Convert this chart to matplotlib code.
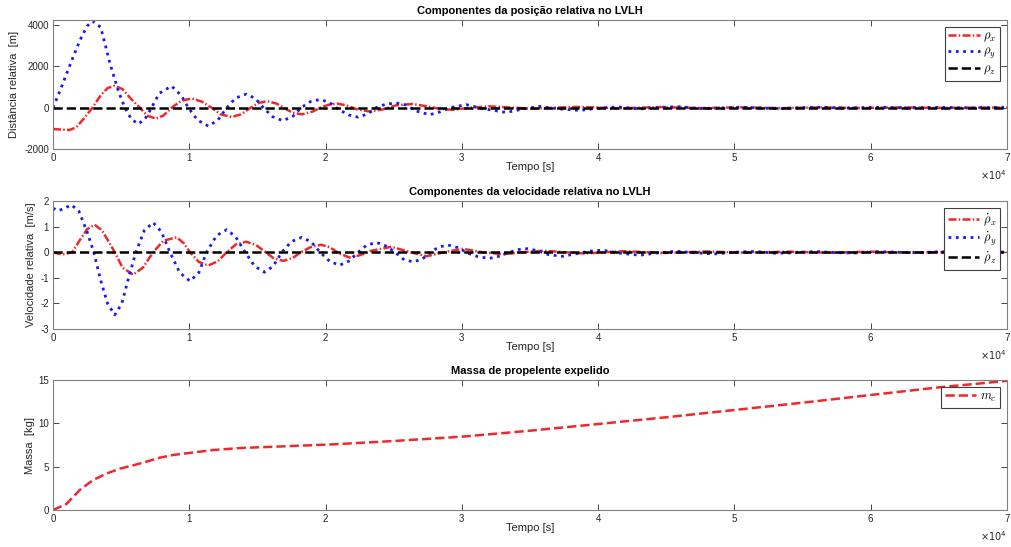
import numpy as np
import matplotlib
matplotlib.use('Agg')
import matplotlib.pyplot as plt

# posicao relativa [m]
t_rx = [0, 600, 1200, 1700, 2300, 2890, 3500, 4000, 4530, 5100, 5700, 6370, 6900, 7550, 8100,
        8700, 9400, 10170, 10900, 11640, 12300, 13110, 13800, 14500, 15100, 15690, 16400, 17000,
        17600, 18260, 19000, 19600, 20200, 20830, 21500, 22300, 23240, 24200, 25200, 26400, 27500,
        28400, 29350, 30600, 32000, 33600, 35200, 36800, 38400, 40000, 41500, 43000, 44500, 46000,
        47500, 49000, 50500, 52000, 53500, 55000, 56500, 58000, 59500, 61000, 62500, 64000, 65500,
        67000, 68500, 70000]
rho_x = [-1030, -1060, -1080, -950, -500, 0, 600, 950, 1060, 900, 450, 0, -380, -530, -380,
         0, 330, 450, 300, 0, -320, -450, -320, 0, 230, 320, 200, -30,
         -250, -320, -200, 0, 140, 200, 120, -80, -180, -80, 120, 180, 60,
         -60, -100, 0, 65, 10, -50, 0, 40, 10, -30, 0, 30, 10,
         -20, 0, 20, 0, -20, 0, 15, 0, -15, 0, 15, 0, -10,
         0, 10, 0]

t_ry = [0, 500, 1000, 1500, 2000, 2500, 2890, 3500, 4200, 4800, 5270, 5750, 6250, 6750, 7230,
        7800, 8700, 9400, 9930, 10600, 11400, 12100, 12750, 13400, 14170, 14850, 15440, 16100,
        16860, 17600, 18200, 18900, 19600, 20300, 21000, 21700, 22380, 23100, 23700, 24400, 25200,
        25900, 26600, 27640, 28400, 29100, 30330, 31500, 33260, 34500, 35700, 37000, 38640, 40000,
        41500, 43000, 44500, 46000, 47500, 49000, 50500, 52000, 53500, 55000, 56500, 58000, 59500,
        61000, 62500, 64000, 65500, 67000, 68500, 70000]
rho_y = [0, 800, 1650, 2500, 3300, 3950, 4200, 3900, 2100, 800, 0, -550, -790, -550, 0,
         700, 1050, 600, 0, -600, -890, -600, 0, 470, 660, 450, 0, -430,
         -630, -420, 0, 300, 400, 250, -100, -350, -456, -300, 0, 170, 230,
         130, -150, -340, -200, 0, 150, -40, -230, -60, 65, -50, -130, -20,
         40, -60, 20, 50, -40, -20, 30, -20, -40, 10, 20, -20, 10,
         20, -10, 10, 20, -10, 10, 20]

t_rz = [0, 70000]
rho_z = [0, 0]

# velocidade relativa [m/s]
t_vx = [0, 400, 735, 1100, 1420, 2000, 2500, 3060, 3600, 4100, 4530, 5100, 5880, 6600, 7350,
        8100, 9070, 9600, 10050, 10700, 11400, 12100, 12750, 13400, 14170, 14900, 15600, 16200,
        16910, 17600, 18200, 18900, 19660, 20300, 21000, 21770, 22500, 23300, 24830, 26100, 27400,
        28700, 30090, 31500, 33020, 34500, 36000, 37500, 39000, 40500, 42000, 43500, 45000, 46500,
        48000, 49500, 51000, 52500, 54000, 55500, 57000, 58500, 60000, 61500, 63000, 64500, 66000,
        67500, 70000]
vel_x = [0, -0.06, -0.08, -0.04, 0, 0.5, 0.9, 1.07, 0.85, 0.4, 0, -0.6, -0.88, -0.6, 0,
         0.45, 0.58, 0.35, 0, -0.38, -0.52, -0.35, 0, 0.3, 0.41, 0.28, 0, -0.24,
         -0.34, -0.22, 0, 0.2, 0.29, 0.2, -0.05, -0.21, -0.12, 0.05, 0.21, 0.02, -0.16,
         0, 0.13, 0, -0.08, 0, 0.06, 0, -0.05, 0, 0.04, 0, -0.03, 0,
         0.03, 0, -0.02, 0, 0.02, 0, -0.02, 0, 0.02, 0, -0.01, 0, 0.01,
         0, 0]

t_vy = [0, 370, 800, 1350, 1900, 2500, 2990, 3500, 4000, 4530, 5050, 5600, 6080, 6700, 7350,
        7950, 8580, 9300, 10050, 10700, 11270, 12000, 12750, 13400, 14100, 14800, 15510, 16150,
        16790, 17500, 18260, 18950, 19600, 20300, 21030, 21700, 22400, 23000, 23730, 24400, 25100,
        25700, 26410, 27100, 27700, 28300, 28980, 29700, 30500, 31200, 32040, 32800, 33500, 34100,
        34850, 35600, 36400, 37400, 38400, 39300, 40330, 41500, 43040, 44300, 45740, 47000, 48500,
        50000, 51500, 53000, 54500, 56000, 57500, 59000, 60500, 62000, 63500, 65000, 66500, 68000,
        70000]
vel_y = [1.72, 1.62, 1.70, 1.85, 1.6, 0.8, 0, -1.1, -2.0, -2.45, -2.0, -0.9, 0, 0.85, 1.16,
         0.8, 0, -0.8, -1.13, -0.8, 0, 0.65, 0.88, 0.6, 0, -0.55, -0.78, -0.55,
         0, 0.42, 0.58, 0.4, 0, -0.36, -0.51, -0.35, 0, 0.27, 0.38, 0.25, 0,
         -0.27, -0.38, -0.27, 0, 0.2, 0.28, 0.18, -0.05, -0.18, -0.24, -0.15, 0, 0.1,
         0.14, 0.05, -0.1, -0.16, -0.06, 0.04, 0.08, -0.03, -0.12, -0.03, 0.04, -0.02, -0.07,
         0, 0.03, -0.04, -0.02, 0.03, -0.02, -0.03, 0.02, 0, -0.02, 0.02, 0, -0.01,
         0.01]

t_vz = [0, 70000]
vel_z = [0, 0]

# massa expelida [kg]
t_m = [0, 980, 1960, 2940, 3920, 4900, 5880, 6860, 7840, 8820, 10000, 11760, 13730, 15690,
       18140, 20590, 25000, 30000, 35000, 40000, 45000, 50000, 55000, 60000, 65000, 70000]
massa = [0, 0.69, 2.3, 3.46, 4.2, 4.77, 5.15, 5.58, 6.04, 6.35, 6.58, 6.92, 7.15, 7.27,
         7.42, 7.58, 7.96, 8.46, 9.15, 9.92, 10.7, 11.54, 12.38, 13.27, 14.15, 14.9]

plt.rcParams['font.family'] = ['Liberation Sans', 'DejaVu Sans']
plt.rcParams['mathtext.fontset'] = 'cm'
plt.rcParams['axes.unicode_minus'] = False

W, H = 1012, 547
fig = plt.figure(figsize=(W / 100, H / 100), dpi=100)

cor_eixo = '#262626'
vermelho = '#f0282a'
azul = '#1a1aee'
traco_ponto = (3.2, 0.9, 0.6, 0.9)


def eixo(top, bottom, ylab, x_ylab):
    ax = fig.add_axes([53 / W, 1 - bottom / H, (1007 - 53) / W, (bottom - top) / H])
    ax.set_xlim(0, 70000)
    ax.set_xticks(np.arange(0, 70001, 10000))
    ax.set_xticklabels([str(i) for i in range(8)])
    ax.tick_params(direction='in', top=True, right=True, length=4, width=0.6,
                   colors=cor_eixo, labelsize=7, pad=3)
    for s in ax.spines.values():
        s.set_color('#808080')
        s.set_linewidth(0.8)
    ax.set_xlabel('Tempo [s]', fontsize=8, color=cor_eixo, labelpad=-1)
    ax.set_ylabel(ylab, fontsize=8, color=cor_eixo)
    ax.yaxis.set_label_coords((x_ylab - 53) / 954, 0.5)
    ax.text(1.0, -26 / (bottom - top), r'$\times10^{4}$', transform=ax.transAxes,
            ha='right', va='center', fontsize=7, color=cor_eixo,
            math_fontfamily='dejavusans')
    return ax


def legenda(ax):
    leg = ax.legend(loc='upper right', fontsize=9, fancybox=False, framealpha=1,
                    edgecolor='#404040', handlelength=2.5, borderaxespad=0.55,
                    labelspacing=0.15, handletextpad=0.3, borderpad=0.3)
    leg.get_frame().set_linewidth(0.8)


ax1 = eixo(20, 149, 'Distância relativa  [m]', 19)
ax1.plot(t_rx, rho_x, '-.', color=vermelho, lw=1.8, dashes=traco_ponto, label=r'$\rho_x$')
ax1.plot(t_ry, rho_y, ':', color=azul, lw=2.0, label=r'$\rho_y$')
ax1.plot(t_rz, rho_z, '--', color='k', lw=1.8, label=r'$\rho_z$')
ax1.set_ylim(-2000, 4250)
ax1.set_yticks([-2000, 0, 2000, 4000])
ax1.set_title('Componentes da posição relativa no LVLH', fontsize=8, fontweight='bold',
              color='k', pad=4)
legenda(ax1)

ax2 = eixo(201, 329, 'Velocidade relativa  [m/s]', 36)
ax2.plot(t_vx, vel_x, '-.', color=vermelho, lw=1.8, dashes=traco_ponto, label=r'$\dot{\rho}_x$')
ax2.plot(t_vy, vel_y, ':', color=azul, lw=2.0, label=r'$\dot{\rho}_y$')
ax2.plot(t_vz, vel_z, '--', color='k', lw=1.8, label=r'$\dot{\rho}_z$')
ax2.set_ylim(-3, 2)
ax2.set_yticks([-3, -2, -1, 0, 1, 2])
ax2.set_title('Componentes da velocidade relativa no LVLH', fontsize=8, fontweight='bold',
              color='k', pad=4)
legenda(ax2)

ax3 = eixo(380, 510, 'Massa  [kg]', 35)
ax3.plot(t_m, massa, '--', color=vermelho, lw=1.8, label=r'$m_c$')
ax3.set_ylim(0, 15)
ax3.set_yticks([0, 5, 10, 15])
ax3.set_title('Massa de propelente expelido', fontsize=8, fontweight='bold',
              color='k', pad=4)
legenda(ax3)

fig.savefig('out.png', dpi=100)
